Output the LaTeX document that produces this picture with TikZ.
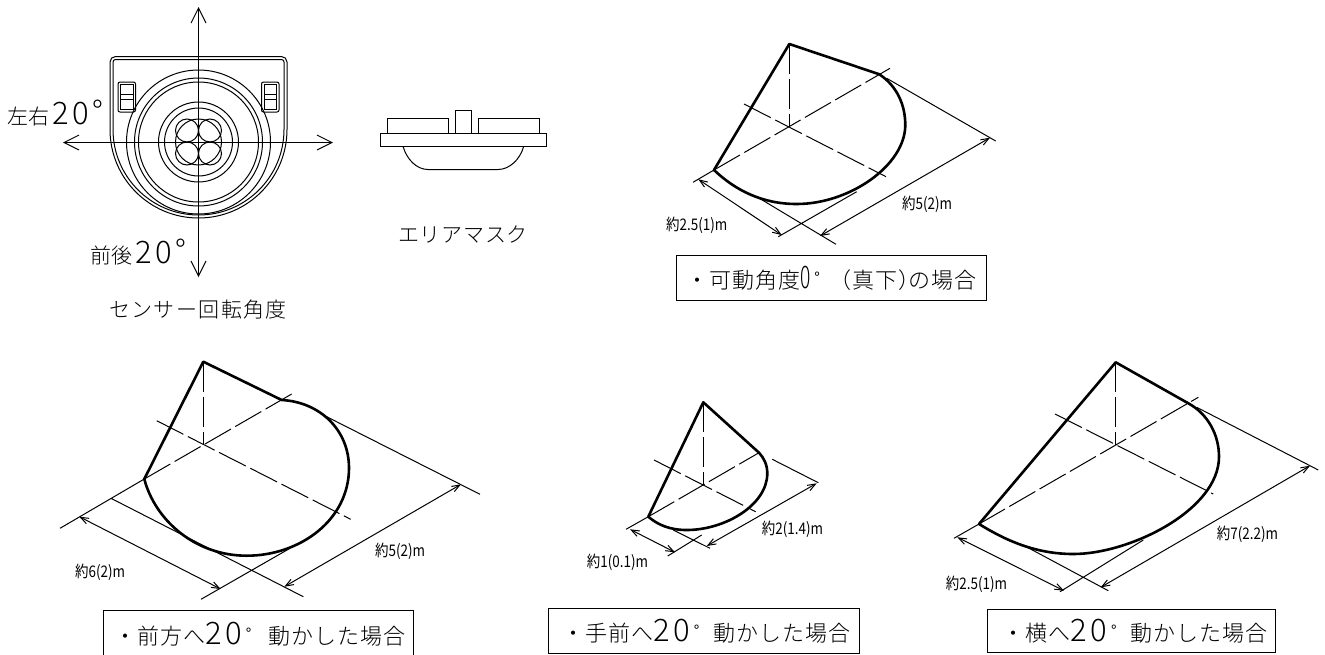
\documentclass[tikz,border=0pt]{standalone}
\usepackage{fontspec}
\newfontfamily\cjk{Noto Sans CJK JP}[UprightFont=* Light]
\newfontfamily\cjkr{Noto Sans CJK JP}
\usetikzlibrary{arrows.meta,calc}
\newcommand{\dig}[1]{{\fontsize{31}{31}\selectfont #1}}
\newcommand{\ndig}[1]{{\fontsize{31}{31}\selectfont\scalebox{.62}[1]{#1}}}
\newcommand{\degm}{\raisebox{5pt}{\fontsize{15}{15}\selectfont\cjkr °}}
\newcommand{\sm}[1]{\scalebox{.84}[1]{\cjkr\fontsize{16}{16}\selectfont #1}}
\tikzset{
 thin line/.style={line width=1pt,black},
 thick line/.style={line width=2.6pt,black,line cap=round,line join=round},
 dashline/.style={line width=1pt,dash pattern=on 30pt off 5pt},
 dim/.style={line width=1pt,{Straight Barb[length=8pt,width=6pt]}-{Straight Barb[length=8pt,width=6pt]}},
 bigarrow/.style={line width=1pt,{Straight Barb[length=15pt,width=15pt]}-{Straight Barb[length=15pt,width=15pt]}},
 small/.style={inner sep=0pt},
 big/.style={font=\cjk\fontsize{21}{22}\selectfont,inner sep=0pt},
 capbox/.style={draw,line width=1pt,inner sep=0pt,font=\cjk\fontsize{22}{22}\selectfont\addfontfeature{LetterSpace=4.5}}
}
\begin{document}
\begin{tikzpicture}[x=1pt,y=-1pt]
\useasboundingbox (0,0) rectangle (1325,654);
% --- sensor top view
\coordinate (c) at (198.5,142);
\draw[thin line] (110,62) arc[start angle=180,end angle=270,radius=5.5] -- (281.5,56.5) arc[start angle=270,end angle=360,radius=5.5] -- (287,129.5) arc[start angle=0,end angle=180,radius=88.5] -- cycle;
\draw[thin line] (113,62) arc[start angle=180,end angle=270,radius=2.5] -- (281.5,59.5) arc[start angle=270,end angle=360,radius=2.5] -- (284,129.5) arc[start angle=0,end angle=180,radius=85.5] -- cycle;
\foreach \r in {72,64,60,40,34,23} \draw[thin line] (c) circle[radius=\r];
\foreach \dx/\dy in {-11.5/-11.5,11.5/-11.5,-11.5/11.5,11.5/11.5} \draw[thin line] ($(c)+(\dx,\dy)$) circle[radius=11.5];
\foreach \x in {118,261.5}{
 \draw[thin line,rounded corners=2pt] (\x,82) rectangle ++(17.5,30);
 \draw[thin line] (\x+2.5,84.5) rectangle ++(12.5,25);
 \draw[thin line] (\x+2.5,94) -- ++(12.5,0) (\x+2.5,99.3) -- ++(12.5,0);
}
\coordinate (t) at (198.5,7); \coordinate (b) at (198.5,277);
\coordinate (l) at (63,142.5); \coordinate (r) at (333,142.5);
\draw[bigarrow] (t) -- (b);
\draw[bigarrow] (l) -- (r);
\node[big,anchor=west] (n1) at (7,113.5) {左右\,\dig{2}\,\dig{0}\,\raisebox{1pt}{\dig{°}}};
\node[big,anchor=west] (n2) at (90,252.5) {前後\,\dig{2}\,\dig{0}\,\raisebox{1pt}{\dig{°}}};
\node[big,font=\cjk\fontsize{21}{22}\selectfont\addfontfeature{LetterSpace=6.5}] (n3) at (198,310) {センサー回転角度};
% --- side view
\draw[thin line] (380,133.3) rectangle (546.7,146.3);
\draw[thin line] (387.3,133.3) rectangle (448.3,118.3);
\draw[thin line] (455.7,133.3) rectangle (471.3,110.7);
\draw[thin line] (478.3,133.3) rectangle (539.3,118.3);
\draw[thin line] (403,146.3) .. controls (407,160) and (417,169.5) .. (428,169.5) -- (498,169.5) .. controls (509,169.5) and (520,160) .. (523.7,146.3);
\node[big,font=\cjk\fontsize{21}{22}\selectfont\addfontfeature{LetterSpace=3.5}] (n4) at (463,234) {エリアマスク};
% --- cone 0
\coordinate (A) at (789.3,44); \coordinate (C) at (789.3,126.7);
\coordinate (L) at (714,170); \coordinate (R) at (879.3,74.3);
\draw[dashline] (A) -- (C);
\draw[dashline] (L) -- (890,68.3);
\draw[dashline] (744,104) -- (886,176.7);
\draw[thin line] (L) -- (693,182.3) (778.3,236.7) -- (856.7,191.7) (756.7,196.7) -- (836,244.3) (886.7,78.3) -- (995.7,141);
\draw[dim] (698.3,179.3) -- (781.7,235);
\draw[dim] (820,236) -- (990,137.7);
\draw[thick line] (L) -- (A) -- (R) .. controls (897,86) and (905.3,105) .. (905.3,125) .. controls (905.3,165) and (850,204) .. (796.7,204) .. controls (762,204) and (735,190) .. (L);
\node[small,anchor=west] (t1) at (666,225) {\sm{約2.5(1)m}};
\node[small,anchor=west] (t2) at (902,204) {\sm{約5(2)m}};
\node[capbox,minimum width=310pt,minimum height=45pt] (box1) at (831.5,278) {・可動角度\ndig{0}\hspace{4pt}\degm\hspace{10pt}（真下）\hspace{-12pt}の場合};
% --- cone front
\coordinate (A2) at (203.3,361.7); \coordinate (C2) at (203.3,445);
\coordinate (L2) at (144.3,479); \coordinate (R2) at (281.7,400);
\draw[dashline] (A2) -- (C2);
\draw[dashline] (L2) -- (291.7,394);
\draw[dashline] (156.7,420.7) -- (350.7,519.3);
\draw[thin line] (L2) -- (60,528.3) (111,498.3) -- (303.3,596.7) (201,599.3) -- (290,548.3) (323.3,415) -- (480,494.3);
\draw[dim] (79.3,516.7) -- (220.7,589);
\draw[dim] (284.3,586.7) -- (461,484.3);
\draw[thick line] (L2) -- (A2) -- (R2) .. controls (320,402) and (349,430) .. (349,468) .. controls (349,520) and (300,555.7) .. (246.7,555.7) .. controls (195,555.7) and (155,520) .. (L2);
\node[small,anchor=west] (t3) at (75,572.7) {\sm{約6(2)m}};
\node[small,anchor=west] (t4) at (375,551.7) {\sm{約5(2)m}};
\node[capbox,minimum width=310pt,minimum height=48pt] (box2) at (258.5,634.5) {\raisebox{2pt}{\hspace{3pt}・前方へ\dig{2}\,\dig{0}\,\degm\hspace{17pt}動かした場合}};
% --- cone near
\coordinate (A3) at (703.3,402.3); \coordinate (C3) at (703.3,485);
\coordinate (L3) at (648.3,516.7); \coordinate (R3) at (759,452.7);
\draw[dashline] (A3) -- (C3);
\draw[dashline] (L3) -- (R3);
\draw[dashline] (654,460) -- (755.7,511.7);
\draw[thin line] (L3) -- (626,529.3) (673.3,530) -- (710,548.3) (667.7,556) -- (701.7,535) (772.3,459.3) -- (818.3,482.7);
\draw[dim] (630,529.3) -- (675,552.3);
\draw[dim] (706.7,546) -- (816.7,483.3);
\draw[thick line] (L3) -- (A3) -- (R3) .. controls (764,458) and (767.3,465) .. (767.3,473.3) .. controls (767.3,505) and (725,530) .. (686.7,530) .. controls (670,530) and (658,525) .. (L3);
\node[small,anchor=west] (t5) at (586.7,562.3) {\sm{約1(0.1)m}};
\node[small,anchor=west] (t6) at (761.7,529.3) {\sm{約2(1.4)m}};
\node[capbox,minimum width=311pt,minimum height=45pt] (box3) at (704,631) {\raisebox{-2pt}{\hspace{5pt}・手前へ\dig{2}\,\dig{0}\,\degm\hspace{14pt}動かした場合}};
% --- cone side
\coordinate (A4) at (1115.7,362.3); \coordinate (C4) at (1115.7,445);
\coordinate (L4) at (979,524); \coordinate (R4) at (1188.3,403.3);
\draw[dashline] (A4) -- (C4);
\draw[dashline] (L4) -- (1198.3,397.3);
\draw[dashline] (1055,414) -- (1213.3,494);
\draw[thin line] (L4) -- (954,538.3) (1027.3,547.3) -- (1108.3,590.7) (1060,591.7) -- (1143.3,540) (1196.7,407.3) -- (1318.3,470);
\draw[dim] (957.3,537.3) -- (1064,590.7);
\draw[dim] (1100.7,587.3) -- (1310,465.7);
\draw[thick line] (L4) -- (A4) -- (R4) .. controls (1208,414) and (1219,435) .. (1219,456.7) .. controls (1219,510) and (1130,554) .. (1073.3,554) .. controls (1035,554) and (1005,540) .. (L4);
\node[small,anchor=west] (t7) at (945.7,584.3) {\sm{約2.5(1)m}};
\node[small,anchor=west] (t8) at (1216.7,534.3) {\sm{約7(2.2)m}};
\node[capbox,minimum width=288pt,minimum height=43pt] (box4) at (1131.5,631) {\hspace{7pt}・横へ\dig{2}\,\dig{0}\,\degm\hspace{14pt}動かした場合};
\end{tikzpicture}
\end{document}
